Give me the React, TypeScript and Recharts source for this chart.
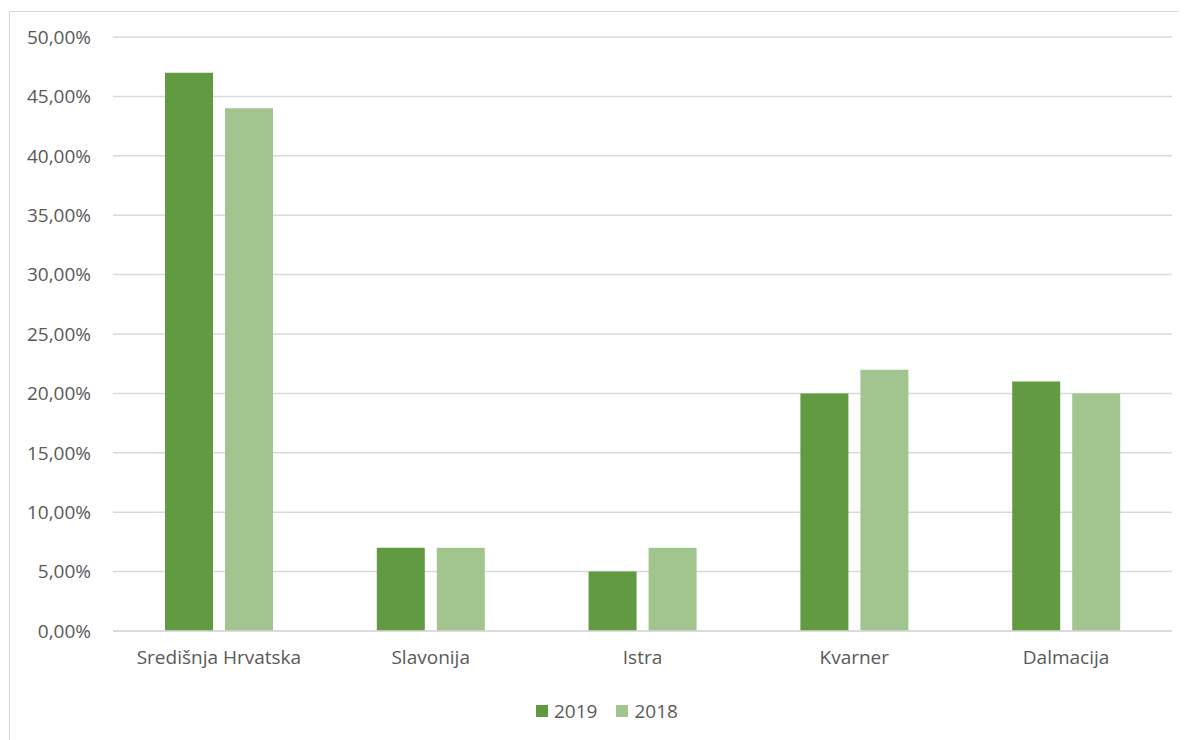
import { BarChart, Bar, XAxis, YAxis, CartesianGrid, Legend } from 'recharts';

const regions = ['Središnja Hrvatska', 'Slavonija', 'Istra', 'Kvarner', 'Dalmacija'];
const values2019 = [47, 7, 5, 20, 21];
const values2018 = [44, 7, 7, 22, 20];
const yTicks = [0, 5, 10, 15, 20, 25, 30, 35, 40, 45, 50];

const seriesList = [
  { key: 'y2019', name: '2019', color: '#629A41' },
  { key: 'y2018', name: '2018', color: '#A2C590' },
];

const data = regions.map((name, i) => ({
  name,
  y2019: values2019[i],
  y2018: values2018[i],
}));

const FONT = '"Open Sans", sans-serif';
const TEXT = '#595959';

const formatPct = (v: number) => v.toFixed(2).replace('.', ',') + '%';

function LegendContent() {
  return (
    <div
      style={{
        display: 'flex',
        alignItems: 'center',
        height: 30,
        paddingLeft: 526,
        fontFamily: FONT,
        fontSize: 19,
        color: TEXT,
      }}
    >
      {seriesList.map((s) => (
        <div key={s.key} style={{ display: 'flex', alignItems: 'center', marginRight: 19 }}>
          <div style={{ width: 12, height: 12, backgroundColor: s.color, marginRight: 6 }} />
          <span>{s.name}</span>
        </div>
      ))}
    </div>
  );
}

export default function App() {
  return (
    <div
      style={{
        marginLeft: 1,
        marginTop: 3,
        width: 1176,
        height: 728,
        borderLeft: '1px solid #d9d9d9',
        borderTop: '1px solid #d9d9d9',
        background: '#fff',
      }}
    >
      <BarChart
        width={1176}
        height={728}
        data={data}
        margin={{ top: 25, right: 14, left: 0, bottom: 14 }}
        barSize={48}
        barGap={12}
      >
        <CartesianGrid vertical={false} stroke="#d9d9d9" strokeWidth={1.5} />
        <XAxis
          dataKey="name"
          height={65}
          tickLine={false}
          tickSize={0}
          tickMargin={20}
          axisLine={{ stroke: '#d9d9d9', strokeWidth: 1.5 }}
          tick={{ fill: TEXT, fontSize: 19, fontFamily: FONT }}
        />
        <YAxis
          width={103}
          domain={[0, 50]}
          ticks={yTicks}
          tickFormatter={formatPct}
          axisLine={false}
          tickLine={false}
          tickSize={0}
          tickMargin={22}
          tick={{ fill: TEXT, fontSize: 19, fontFamily: FONT }}
        />
        <Legend verticalAlign="bottom" height={30} content={<LegendContent />} />
        {seriesList.map((s) => (
          <Bar key={s.key} dataKey={s.key} name={s.name} fill={s.color} isAnimationActive={false} />
        ))}
      </BarChart>
    </div>
  );
}
